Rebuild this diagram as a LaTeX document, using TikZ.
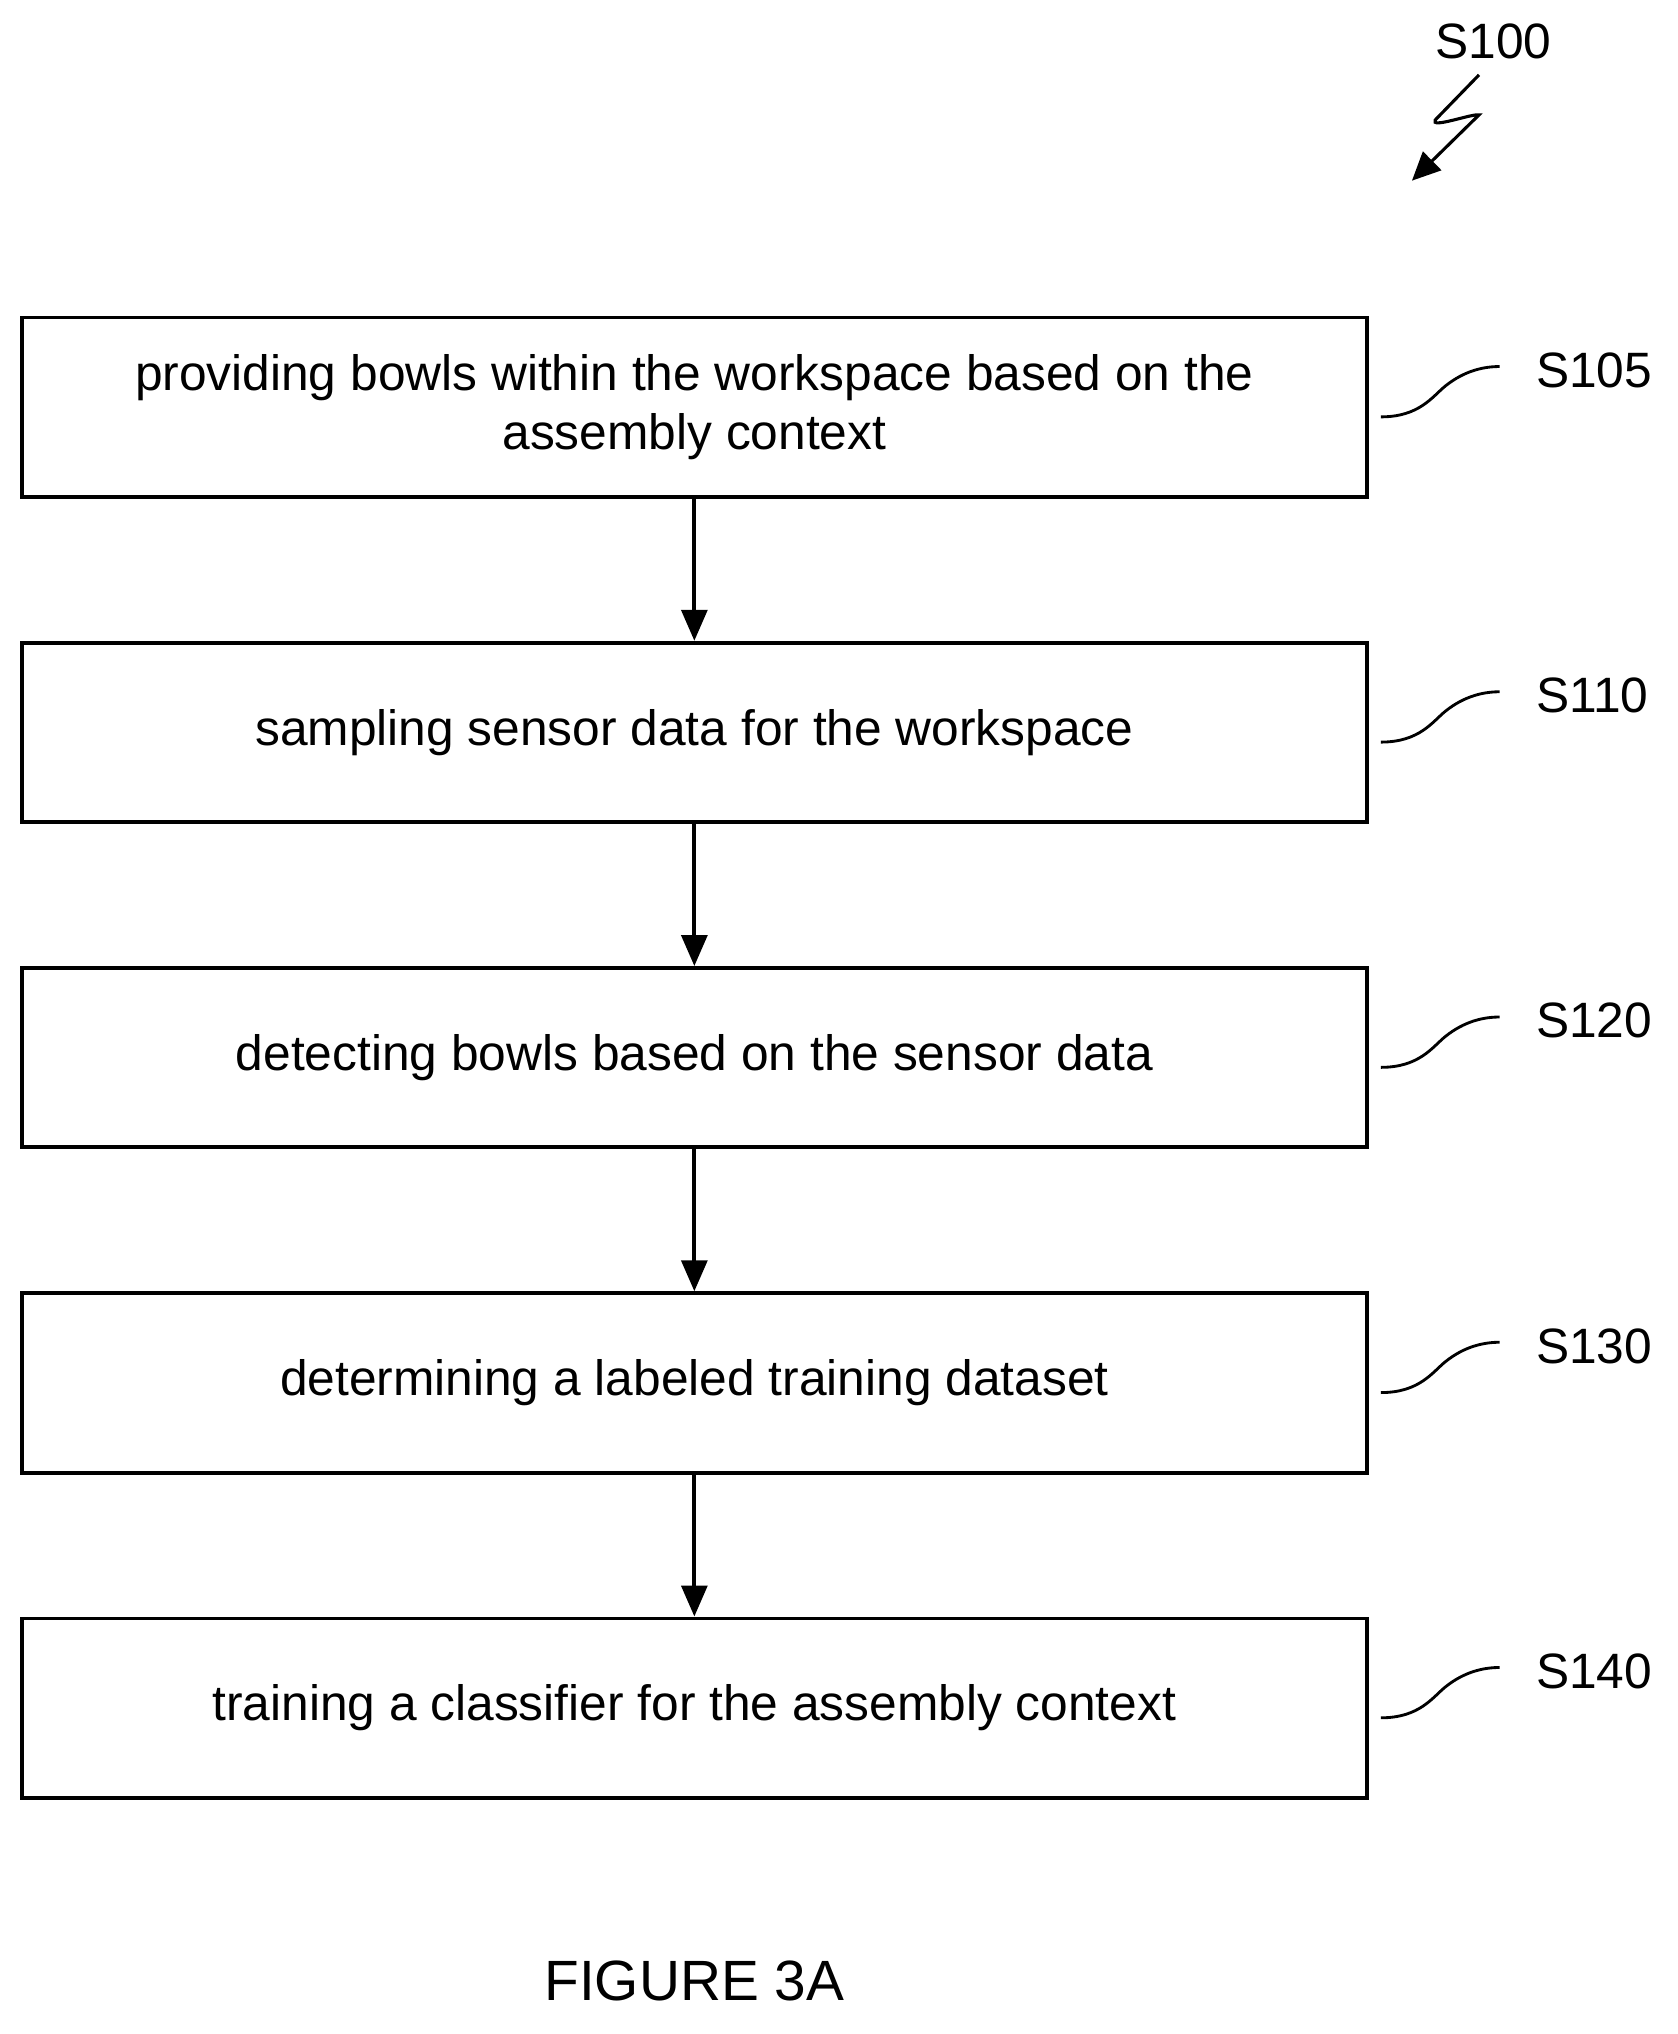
\documentclass[tikz,border=0pt]{standalone}
\usepackage{fontspec}
\setmainfont{Liberation Sans}
\usetikzlibrary{arrows.meta}
\begin{document}
\begin{tikzpicture}[x=1pt,y=-1pt,
 box/.style={draw,line width=3pt,minimum width=1042pt,minimum height=139pt,align=center,font=\fontsize{38.5}{46}\selectfont,inner sep=0pt},
 lab/.style={font=\fontsize{38.5}{40}\selectfont,anchor=west,inner sep=0pt},
 arr/.style={line width=3pt,-{Triangle[length=24pt,width=20pt]}},
 sq/.style={line width=2.2pt}]
\useasboundingbox (0,0) rectangle (1300,1576);
\node[box] (b1) at (538,315.5) {providing bowls within the workspace based on the\\assembly context};
\node[box] (b2) at (538,567.5) {sampling sensor data for the workspace};
\node[box] (b3) at (538,819.5) {detecting bowls based on the sensor data};
\node[box] (b4) at (538,1071.5) {determining a labeled training dataset};
\node[box] (b5) at (538,1323.5) {training a classifier for the assembly context};
\foreach \a/\b in {b1/b2,b2/b3,b3/b4,b4/b5} \draw[arr] (\a.south) -- (\b.north);
\foreach \n/\t/\y in {b1/S105/287,b2/S110/539,b3/S120/791,b4/S130/1043,b5/S140/1295}{
 \node[lab] (l\n) at (1190,\y) {\t};
 \coordinate (c\n) at (1070,\y+36);
 \draw[sq] (c\n) .. controls (1100,\y+36) and (1110,\y+20) .. (1120,\y+12) .. controls (1135,\y) and (1150,\y-3) .. (1162,\y-3);
}
\node[font=\fontsize{38.5}{40}\selectfont,inner sep=0pt] (s100) at (1157,32) {S100};
\coordinate (z0) at (1146,58);
\draw[line width=2.4pt,-{Triangle[length=22pt,width=20pt]}] (z0) -- (1112,93) .. controls (1108,100) and (1140,88) .. (1146,89) -- (1094,140);
\node[font=\fontsize{44}{48}\selectfont,inner sep=0pt] (fig) at (538,1535) {FIGURE 3A};
\end{tikzpicture}
\end{document}
